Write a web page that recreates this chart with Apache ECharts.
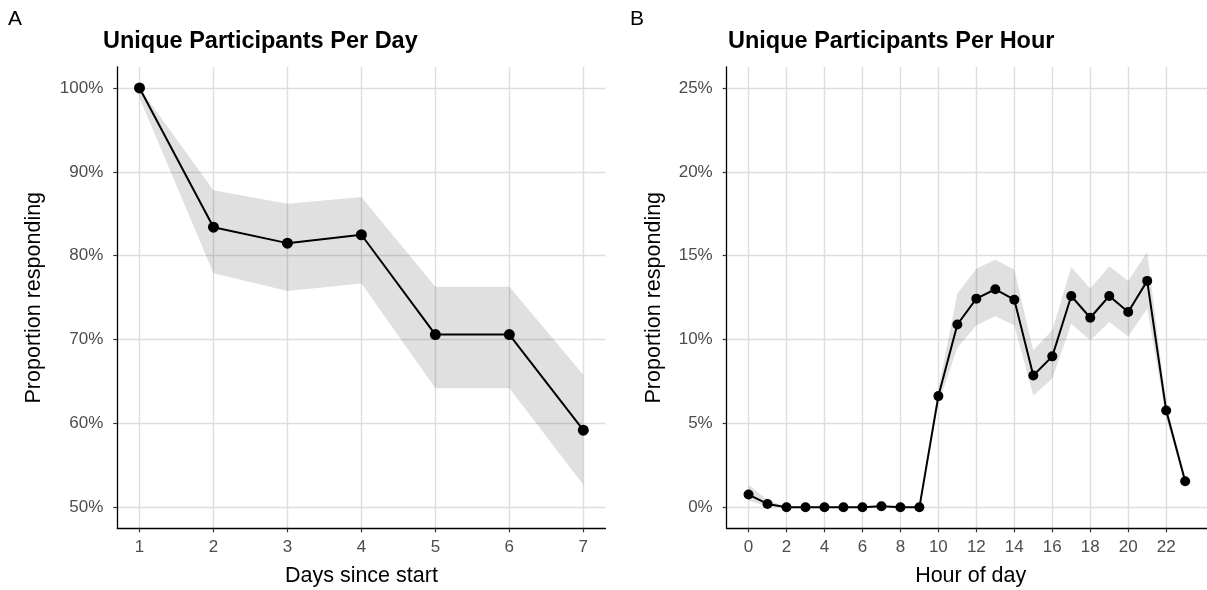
<!DOCTYPE html>
<html>
<head>
<meta charset="utf-8">
<script src="https://cdn.jsdelivr.net/npm/echarts@6/dist/echarts.min.js"></script>
<style>
html,body{margin:0;padding:0;background:#fff;}
#chart{width:1207px;height:590px;}
</style>
</head>
<body>
<div id="chart"></div>
<script>
// ---- Data ----
const days = [1, 2, 3, 4, 5, 6, 7];
const dayProp  = [100, 83.4, 81.5, 82.5, 70.6, 70.6, 59.2];
const dayUpper = [100, 87.8, 86.2, 87.0, 76.3, 76.3, 65.8];
const dayLower = [98.8, 77.9, 75.8, 76.7, 64.2, 64.2, 52.7];

const hours = [0,1,2,3,4,5,6,7,8,9,10,11,12,13,14,15,16,17,18,19,20,21,22,23];
const hourProp  = [0.76, 0.2, 0, 0, 0, 0, 0, 0.06, 0, 0, 6.63, 10.9, 12.44, 13.0, 12.38, 7.86, 9.0, 12.6, 11.3, 12.6, 11.64, 13.5, 5.77, 1.55];
const hourUpper = [1.35, 0.44, 0.05, 0.05, 0.05, 0.05, 0.05, 0.15, 0.05, 0.05, 7.07, 12.74, 14.23, 14.77, 14.17, 9.36, 10.55, 14.33, 13.04, 14.37, 13.5, 15.22, 6.17, 1.79];
const hourLower = [0.4, 0.05, 0, 0, 0, 0, 0, 0, 0, 0, 6.17, 9.51, 10.85, 11.39, 10.85, 6.67, 7.66, 10.95, 9.95, 11.05, 10.19, 11.84, 5.37, 1.3];

const dayTicks = [1, 2, 3, 4, 5, 6, 7];
const dayYTicks = [50, 60, 70, 80, 90, 100];
const hourTicks = [0, 2, 4, 6, 8, 10, 12, 14, 16, 18, 20, 22];
const hourYTicks = [0, 5, 10, 15, 20, 25];

const titles = ['Unique Participants Per Day', 'Unique Participants Per Hour'];
const panelLetters = ['A', 'B'];
const xTitles = ['Days since start', 'Hour of day'];
const yTitle = 'Proportion responding';

// ---- Build ----
const FONT = "'Liberation Sans', Arial, sans-serif";
const gridColor = '#dedede';
const labelColor = '#4d4d4d';
const bandColor = 'rgba(0,0,0,0.12)';

function pairs(xs, ys) { return xs.map((x, i) => [x, ys[i]]); }

function xAxisCfg(gi, min, max, ticks) {
  return {
    type: 'value', gridIndex: gi, min: min, max: max,
    axisLine: {show: true, onZero: false, lineStyle: {color: '#000', width: 1.3}},
    axisTick: {show: true, customValues: ticks, length: 4, lineStyle: {color: '#333', width: 1.2}},
    axisLabel: {customValues: ticks, color: labelColor, fontSize: 17, fontFamily: FONT, margin: 11},
    splitLine: {show: true, lineStyle: {color: gridColor, width: 1.4}}
  };
}
function yAxisCfg(gi, min, max, ticks) {
  return {
    type: 'value', gridIndex: gi, min: min, max: max,
    axisLine: {show: true, onZero: false, lineStyle: {color: '#000', width: 1.3}},
    axisTick: {show: true, customValues: ticks, length: 4, lineStyle: {color: '#333', width: 1.2}},
    axisLabel: {customValues: ticks, color: labelColor, fontSize: 17, fontFamily: FONT, margin: 14,
      formatter: v => v + '%'},
    splitLine: {show: true, lineStyle: {color: gridColor, width: 1.4}}
  };
}

function bandSeries(gi, xs, lower, upper) {
  return {
    type: 'custom', xAxisIndex: gi, yAxisIndex: gi, silent: true, z: 1,
    data: xs.map((x, i) => [x, lower[i], upper[i]]),
    encode: {x: 0, y: [1, 2]},
    renderItem: function (params, api) {
      if (params.dataIndex !== 0) return null;
      const pts = [];
      for (let i = 0; i < xs.length; i++) pts.push(api.coord([xs[i], upper[i]]));
      for (let i = xs.length - 1; i >= 0; i--) pts.push(api.coord([xs[i], lower[i]]));
      return {
        type: 'polygon',
        shape: {points: pts},
        style: {fill: bandColor, stroke: null}
      };
    }
  };
}
function mainSeries(gi, xs, ys, size) {
  return {
    type: 'line', xAxisIndex: gi, yAxisIndex: gi, data: pairs(xs, ys),
    symbol: 'circle', symbolSize: size, showAllSymbol: true,
    itemStyle: {color: '#000'}, lineStyle: {color: '#000', width: 2}, z: 3
  };
}

const textEls = [];
function addText(text, x, y, font, align, rot) {
  textEls.push({
    type: 'text', x: x, y: y, rotation: rot || 0,
    style: {text: text, font: font, fill: '#000', align: align, verticalAlign: 'middle'}
  });
}
addText(panelLetters[0], 8, 19.5, "21px " + FONT, 'left');
addText(panelLetters[1], 630, 19.5, "21px " + FONT, 'left');
addText(titles[0], 103, 41.7, "bold 23.5px " + FONT, 'left');
addText(titles[1], 728, 41.7, "bold 23.5px " + FONT, 'left');
addText(xTitles[0], 361.4, 575.9, "21.5px " + FONT, 'center');
addText(xTitles[1], 970.7, 575.9, "21.5px " + FONT, 'center');
addText(yTitle, 34.5, 297.7, "21.5px " + FONT, 'center', Math.PI / 2);
addText(yTitle, 654.5, 297.7, "21.5px " + FONT, 'center', Math.PI / 2);

const option = {
  animation: false,
  backgroundColor: '#fff',
  grid: [
    {left: 117.3, top: 67, width: 488.2, height: 461.3},
    {left: 726.7, top: 67, width: 488, height: 461.3}
  ],
  xAxis: [
    xAxisCfg(0, 0.7, 7.3, dayTicks),
    xAxisCfg(1, -1.15, 24.15, hourTicks)
  ],
  yAxis: [
    yAxisCfg(0, 47.5, 102.5, dayYTicks),
    yAxisCfg(1, -1.25, 26.25, hourYTicks)
  ],
  series: [
    bandSeries(0, days, dayLower, dayUpper),
    mainSeries(0, days, dayProp, 11),
    bandSeries(1, hours, hourLower, hourUpper),
    mainSeries(1, hours, hourProp, 10)
  ],
  graphic: textEls
};

const chart = echarts.init(document.getElementById('chart'), null, {renderer: 'canvas'});
chart.setOption(option);
</script>
</body>
</html>
